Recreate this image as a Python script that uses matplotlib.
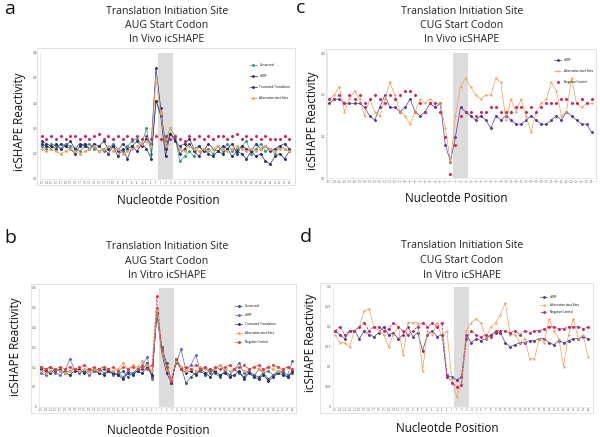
import matplotlib
matplotlib.use("Agg")
import matplotlib.pyplot as plt
from matplotlib.patches import Rectangle

plt.rcParams['font.family'] = ['Open Sans', 'DejaVu Sans']

# ---------------- data ----------------
positions = [str(i) for i in range(-25, 0)] + [str(i) for i in range(1, 29)]

# Panel a: AUG in vivo
a_cons = [0.23,0.22,0.24,0.23,0.22,0.24,0.23,0.22,0.21,0.23,
          0.24,0.22,0.23,0.21,0.22,0.24,0.22,0.21,0.23,0.25,
          0.26,0.24,0.30,0.20,0.41,0.36,0.25,0.30,0.27,0.17,
          0.19,0.21,0.19,0.23,0.21,0.22,0.20,0.23,0.21,0.24,
          0.21,0.22,0.23,0.25,0.20,0.22,0.24,0.21,0.22,0.20,
          0.23,0.22,0.21]
a_uorf = [0.25,0.24,0.23,0.22,0.24,0.23,0.25,0.22,0.24,0.23,
          0.22,0.24,0.23,0.25,0.22,0.23,0.21,0.24,0.22,0.23,
          0.25,0.23,0.26,0.24,0.54,0.38,0.22,0.28,0.25,0.23,
          0.24,0.26,0.22,0.23,0.21,0.24,0.22,0.21,0.23,0.22,
          0.24,0.20,0.23,0.22,0.21,0.24,0.22,0.23,0.21,0.22,
          0.23,0.24,0.22]
a_trunc = [0.24,0.23,0.22,0.24,0.22,0.23,0.22,0.20,0.23,0.24,
           0.22,0.23,0.21,0.22,0.20,0.23,0.19,0.22,0.18,0.23,
           0.21,0.24,0.22,0.18,0.41,0.35,0.19,0.28,0.26,0.20,
           0.22,0.24,0.21,0.19,0.22,0.20,0.19,0.21,0.20,0.22,
           0.19,0.21,0.20,0.18,0.21,0.19,0.20,0.17,0.16,0.19,
           0.20,0.18,0.21]
a_alt = [0.22,0.21,0.22,0.21,0.20,0.21,0.22,0.21,0.20,0.21,
         0.22,0.23,0.21,0.22,0.23,0.21,0.22,0.20,0.21,0.22,
         0.23,0.24,0.25,0.23,0.49,0.36,0.23,0.30,0.27,0.22,
         0.21,0.23,0.22,0.21,0.22,0.21,0.22,0.23,0.22,0.21,
         0.22,0.23,0.22,0.21,0.22,0.21,0.22,0.23,0.22,0.21,
         0.22,0.22,0.21]
a_neg = [0.27,0.26,0.27,0.26,0.27,0.26,0.27,0.27,0.26,0.27,
         0.26,0.27,0.28,0.26,0.27,0.26,0.27,0.26,0.27,0.26,
         0.27,0.26,0.27,0.26,0.27,0.26,0.27,0.26,0.27,0.26,
         0.25,0.27,0.26,0.27,0.26,0.27,0.26,0.27,0.27,0.26,
         0.27,0.28,0.26,0.27,0.26,0.27,0.26,0.27,0.26,0.26,
         0.26,0.27,0.26]

# Panel b: AUG in vitro
b_cons = [0.20,0.19,0.20,0.18,0.19,0.17,0.18,0.19,0.17,0.18,
          0.19,0.18,0.17,0.19,0.18,0.17,0.16,0.18,0.15,0.17,
          0.18,0.19,0.22,0.15,0.47,0.30,0.22,0.12,0.24,0.20,
          0.12,0.15,0.17,0.18,0.16,0.19,0.17,0.15,0.18,0.16,
          0.19,0.17,0.15,0.18,0.16,0.15,0.17,0.14,0.16,0.18,
          0.17,0.15,0.17]
b_uorf = [0.17,0.16,0.18,0.17,0.16,0.18,0.24,0.19,0.17,0.18,
          0.16,0.18,0.19,0.17,0.18,0.16,0.17,0.15,0.18,0.17,
          0.19,0.21,0.25,0.14,0.50,0.28,0.20,0.14,0.22,0.29,
          0.18,0.21,0.26,0.18,0.20,0.17,0.19,0.21,0.18,0.16,
          0.19,0.22,0.17,0.18,0.15,0.19,0.17,0.18,0.16,0.17,
          0.18,0.16,0.23]
b_trunc = [0.19,0.18,0.17,0.19,0.18,0.17,0.16,0.18,0.19,0.17,
           0.18,0.19,0.17,0.16,0.18,0.17,0.16,0.14,0.17,0.16,
           0.18,0.17,0.20,0.16,0.47,0.27,0.17,0.12,0.23,0.19,
           0.17,0.18,0.16,0.19,0.17,0.15,0.18,0.16,0.17,0.15,
           0.16,0.18,0.14,0.17,0.15,0.14,0.16,0.13,0.15,0.17,
           0.16,0.15,0.18]
b_alt = [0.18,0.17,0.18,0.19,0.18,0.17,0.18,0.19,0.18,0.19,
         0.18,0.19,0.18,0.20,0.19,0.18,0.19,0.22,0.19,0.21,
         0.20,0.23,0.21,0.18,0.49,0.27,0.19,0.14,0.23,0.20,
         0.18,0.19,0.18,0.20,0.19,0.18,0.19,0.21,0.19,0.18,
         0.19,0.20,0.18,0.19,0.20,0.19,0.18,0.20,0.19,0.18,
         0.19,0.20,0.19]
b_neg = [0.20,0.19,0.20,0.19,0.20,0.19,0.20,0.19,0.20,0.21,
         0.19,0.20,0.19,0.20,0.19,0.20,0.18,0.20,0.19,0.20,
         0.19,0.20,0.19,0.21,0.56,0.29,0.20,0.13,0.24,0.19,
         0.20,0.19,0.21,0.19,0.20,0.18,0.20,0.19,0.20,0.21,
         0.19,0.20,0.21,0.19,0.20,0.21,0.19,0.20,0.21,0.20,
         0.19,0.20,0.19]

# Panel c: CUG in vivo
c_uorf = [0.28,0.29,0.29,0.28,0.28,0.28,0.28,0.27,0.25,0.24,
          0.27,0.30,0.27,0.27,0.26,0.27,0.29,0.26,0.25,0.26,
          0.28,0.27,0.28,0.18,0.14,0.20,0.27,0.26,0.25,0.24,
          0.25,0.24,0.22,0.25,0.24,0.25,0.24,0.23,0.23,0.24,
          0.25,0.24,0.23,0.23,0.24,0.25,0.24,0.26,0.25,0.24,
          0.23,0.23,0.21]
c_alt = [0.29,0.30,0.32,0.26,0.29,0.31,0.29,0.25,0.29,0.26,
         0.25,0.29,0.33,0.30,0.26,0.25,0.23,0.26,0.29,0.28,
         0.29,0.28,0.28,0.22,0.14,0.25,0.32,0.34,0.32,0.30,
         0.29,0.30,0.30,0.34,0.33,0.24,0.29,0.26,0.29,0.25,
         0.21,0.26,0.28,0.29,0.33,0.31,0.25,0.26,0.34,0.28,
         0.27,0.28,0.28]
c_neg = [0.29,0.29,0.30,0.28,0.30,0.29,0.30,0.28,0.29,0.30,
         0.29,0.28,0.30,0.29,0.30,0.31,0.31,0.30,0.28,0.26,
         0.28,0.28,0.26,0.20,0.11,0.18,0.25,0.26,0.26,0.25,
         0.26,0.26,0.27,0.27,0.26,0.26,0.26,0.27,0.27,0.26,
         0.27,0.26,0.27,0.28,0.28,0.28,0.29,0.29,0.28,0.28,
         0.29,0.28,0.29]

# Panel d: CUG in vitro
d_uorf = [0.19,0.18,0.17,0.19,0.19,0.17,0.19,0.18,0.175,0.185,
          0.20,0.18,0.185,0.17,0.18,0.20,0.175,0.185,0.14,0.18,
          0.19,0.175,0.18,0.075,0.075,0.067,0.075,0.18,0.16,0.17,
          0.165,0.17,0.18,0.185,0.185,0.16,0.15,0.155,0.16,0.16,
          0.165,0.165,0.17,0.17,0.16,0.155,0.165,0.16,0.165,0.17,
          0.17,0.175,0.17]
d_alt = [0.18,0.16,0.16,0.15,0.19,0.20,0.24,0.245,0.20,0.19,
         0.18,0.15,0.18,0.20,0.13,0.21,0.21,0.21,0.09,0.19,
         0.18,0.21,0.17,0.19,0.07,0.025,0.06,0.19,0.21,0.22,
         0.21,0.17,0.20,0.21,0.23,0.26,0.18,0.18,0.16,0.17,
         0.12,0.12,0.17,0.16,0.22,0.19,0.17,0.10,0.18,0.22,
         0.17,0.18,0.125]
d_neg = [0.19,0.20,0.18,0.19,0.19,0.20,0.21,0.19,0.20,0.20,
         0.19,0.195,0.21,0.20,0.19,0.18,0.19,0.20,0.21,0.20,
         0.21,0.20,0.21,0.08,0.06,0.05,0.055,0.17,0.19,0.18,
         0.175,0.18,0.175,0.19,0.19,0.19,0.185,0.19,0.18,0.19,
         0.185,0.19,0.19,0.195,0.20,0.20,0.195,0.195,0.20,0.20,
         0.20,0.195,0.20]

lab_cons = "Conserved"
lab_uorf = "uORF"
lab_trunc = "Truncated Translation"
lab_alt = "Alternative start Sites"
lab_neg = "Negative Control"

# ---------------- styling ----------------
C_CONS = "#2e9c86"
C_UORF = "#3b2c78"
C_TRUNC = "#2a2f6e"
C_ALT = "#f3a25a"
C_NEG = "#c8285e"
C_NEG_B = "#e5393b"
C_CONS_B = "#2f5d6e"
C_UORF_B = "#5a6bb5"
C_UORF_CD = "#5b3a91"
C_ALT_CD = "#ef9e55"

W, H = 600, 437
fig = plt.figure(figsize=(6, 4.37), dpi=100)
N = len(positions)


def frame(l, t, r, b):
    fig.add_artist(Rectangle((l / W, 1 - b / H), (r - l) / W, (b - t) / H,
                             transform=fig.transFigure, fill=False,
                             edgecolor="#dcdcdc", lw=0.6))


def panel(x_first, x_last, y_top, y_bot, ylim, yticks):
    sp = (x_last - x_first) / (N - 1)
    m = 0.45
    left = x_first - m * sp
    right = x_last + m * sp
    ax = fig.add_axes([left / W, 1 - y_bot / H, (right - left) / W, (y_bot - y_top) / H])
    ax.set_xlim(-m, N - 1 + m)
    ax.set_ylim(*ylim)
    ax.set_yticks(yticks)
    ax.set_yticklabels([("%g" % t) for t in yticks], fontsize=2.4, color="#555555")
    ax.set_xticks(list(range(N)))
    ax.set_xticklabels(positions, fontsize=1.9, color="#555555")
    ax.tick_params(length=0, pad=1.2)
    for k in ("top", "right"):
        ax.spines[k].set_visible(False)
    for k in ("left", "bottom"):
        ax.spines[k].set_color("#e0e0e0")
        ax.spines[k].set_linewidth(0.5)
    ax.patch.set_alpha(0)
    ax.axvspan(24.5, 27.5, color="#dcdcdc", zorder=0, lw=0)
    return ax


def line(ax, y, color, label=None, marker="D", lw=0.5, ls="-", ms=1.0):
    ax.plot(range(len(y)), y, color=color, lw=lw, ls=ls, marker=marker, ms=ms,
            label=label, clip_on=False)


def dots(ax, y, color, label=None, ms=1.1):
    ax.plot(range(len(y)), y, ls="none", marker="D", ms=ms, color=color, label=label, clip_on=False)


def texts(cx, ty, lines, letter, lx, ly, xl_x, xl_y, yl_x, yl_y):
    for i, t in enumerate(lines):
        fig.text(cx / W, 1 - (ty + i * 14.5) / H, t, ha="center", va="center",
                 fontsize=7.6, color="#222222")
    fig.text(lx / W, 1 - ly / H, letter, ha="center", va="center", fontsize=14, color="#111111")
    fig.text(xl_x / W, 1 - xl_y / H, "Nucleotde Position", ha="center", va="center",
             fontsize=8.4, color="#111111")
    fig.text(yl_x / W, 1 - yl_y / H, "icSHAPE Reactivity", ha="center", va="center",
             rotation=90, fontsize=8.4, color="#111111")


def leg(ax, x, y, spacing):
    ax.legend(loc="upper right", fontsize=2.2, frameon=False, handlelength=2.4,
              labelspacing=spacing, bbox_to_anchor=(x, y), borderaxespad=0)


# Panel a
frame(37, 48, 295, 185)
ax = panel(41.7, 289.3, 52.7, 179, (0.1, 0.6), [0.1, 0.2, 0.3, 0.4, 0.5, 0.6])
line(ax, a_cons, C_CONS, lab_cons)
line(ax, a_uorf, C_UORF, lab_uorf)
line(ax, a_trunc, C_TRUNC, lab_trunc)
line(ax, a_alt, C_ALT, lab_alt)
dots(ax, a_neg, C_NEG)
leg(ax, 1.0, 0.93, 2.3)
texts(167, 11, ["Translation Initiation Site", "AUG Start Codon", "In Vivo icSHAPE"],
      "a", 10, 9, 168, 200, 20, 122)

# Panel c
frame(326, 49, 596, 181)
ax = panel(329.3, 591.7, 53.3, 178.3, (0.1, 0.4), [0.1, 0.2, 0.3, 0.4])
line(ax, c_uorf, C_UORF_CD, lab_uorf)
line(ax, c_alt, C_ALT_CD, lab_alt, marker="o", ms=0.6)
dots(ax, c_neg, C_NEG, lab_neg)
leg(ax, 1.0, 0.97, 2.3)
texts(462, 11, ["Translation Initiation Site", "CUG Start Codon", "In Vivo icSHAPE"],
      "c", 301, 8, 456, 199, 313, 121)

# Panel b
frame(31, 284, 296, 413)
ax = panel(40.7, 292.5, 287.7, 406.7, (0.0, 0.6), [0.0, 0.1, 0.2, 0.3, 0.4, 0.5, 0.6])
line(ax, b_cons, C_CONS_B, lab_cons)
line(ax, b_uorf, C_UORF_B, lab_uorf)
line(ax, b_trunc, C_TRUNC, lab_trunc)
line(ax, b_alt, C_ALT, lab_alt)
line(ax, b_neg, C_NEG_B, lab_neg, ls="--")
leg(ax, 0.93, 0.87, 1.6)
texts(167, 247, ["Translation Initiation Site", "AUG Start Codon", "In Vitro icSHAPE"],
      "b", 10, 238, 158, 430, 16, 347)

# Panel d
frame(320, 283, 593, 413)
ax = panel(335, 588, 286.7, 406.7, (0.0, 0.3), [0.0, 0.05, 0.1, 0.15, 0.2, 0.25, 0.3])
line(ax, d_uorf, C_UORF_CD, lab_uorf)
line(ax, d_alt, C_ALT_CD, lab_alt, marker="o", ms=0.6)
line(ax, d_neg, C_NEG, lab_neg, ls="--")
leg(ax, 0.96, 0.94, 1.2)
texts(462, 246, ["Translation Initiation Site", "CUG Start Codon", "In Vitro icSHAPE"],
      "d", 306, 237, 447, 429, 310, 343)

fig.savefig("out.png", dpi=100)
